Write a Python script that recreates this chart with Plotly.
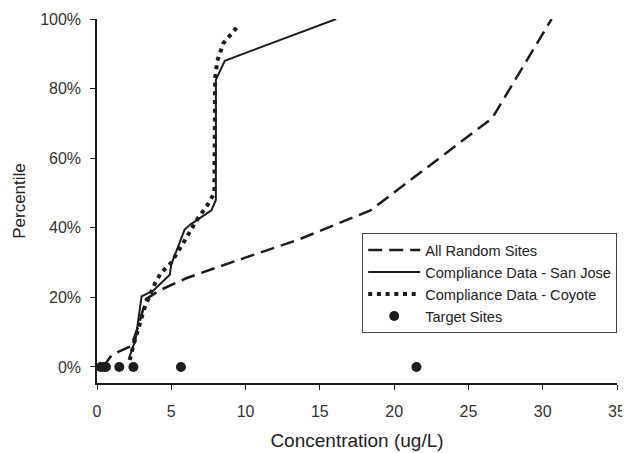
import plotly.graph_objects as go

# Data (concentration ug/L, percentile %)
random_x = [0.4, 1.0, 1.5, 2.3, 2.8, 3.3, 4.2, 6.0, 9.0, 13.5, 18.4, 26.6, 30.6]
random_y = [0.0, 3.5, 4.5, 6.0, 12.0, 19.5, 22.0, 25.5, 30.0, 36.5, 45.0, 71.5, 100.0]

sanjose_x = [2.2, 2.6, 3.0, 3.8, 4.9, 5.0, 5.9, 6.3, 7.7, 8.0, 8.0, 8.6, 16.1]
sanjose_y = [3.0, 8.0, 20.3, 22.0, 26.5, 29.5, 39.5, 41.0, 45.0, 48.0, 82.5, 88.0, 100.0]

coyote_x = [2.2, 2.5, 3.2, 3.5, 3.9, 4.3, 5.0, 6.0, 6.6, 7.5, 7.9, 7.95, 8.1, 8.5, 9.0, 9.55]
coyote_y = [2.0, 7.0, 17.0, 20.0, 24.0, 27.0, 30.0, 37.0, 41.5, 47.0, 50.0, 83.0, 88.0, 93.0, 95.7, 98.3]

target_x = [0.25, 0.5, 0.6, 1.5, 2.45, 5.65, 21.5]
target_y = [0, 0, 0, 0, 0, 0, 0]

y_ticks = [0, 20, 40, 60, 80, 100]
y_tick_labels = ["0%", "20%", "40%", "60%", "80%", "100%"]
x_ticks = [0, 5, 10, 15, 20, 25, 30, 35]

ink = "#1c1c1c"
font = "Liberation Sans, Arial, sans-serif"

fig = go.Figure()
fig.add_trace(go.Scatter(x=random_x, y=random_y, mode="lines", name="All Random Sites",
                         line=dict(color=ink, width=2.5, dash="14px,7px")))
fig.add_trace(go.Scatter(x=sanjose_x, y=sanjose_y, mode="lines", name="Compliance Data - San Jose",
                         line=dict(color=ink, width=2)))
fig.add_trace(go.Scatter(x=coyote_x, y=coyote_y, mode="lines", name="Compliance Data - Coyote",
                         line=dict(color=ink, width=4, dash="4px,4.7px")))
fig.add_trace(go.Scatter(x=target_x, y=target_y, mode="markers", name="Target Sites",
                         marker=dict(color=ink, size=10)))

# The page body adds an 8px offset, so margins are shifted to compensate.
fig.update_layout(
    width=630, height=453,
    margin=dict(l=89, r=21, t=11, b=78),
    paper_bgcolor="white", plot_bgcolor="white",
    font=dict(family=font, color="#333333", size=16),
    showlegend=True,
    legend=dict(x=0.51, y=0.412, xanchor="left", yanchor="top",
                bordercolor="#444444", borderwidth=1, bgcolor="white",
                font=dict(size=14.6, color="#222222"), itemwidth=52,
                tracegroupgap=0),
    xaxis=dict(range=[0, 35], tickvals=x_ticks, showline=True, linecolor=ink, linewidth=2,
               ticks="outside", ticklen=5, tickcolor=ink, tickwidth=1, showgrid=False,
               zeroline=False, ticklabelstandoff=8, automargin=False,
               title=dict(text="Concentration (ug/L)", font=dict(size=19, color="#222222"),
                          standoff=14)),
    yaxis=dict(range=[-4.6, 100], tickvals=y_ticks, ticktext=y_tick_labels, showline=True,
               linecolor=ink, linewidth=1.5, ticks="outside", ticklen=5, tickcolor=ink,
               tickwidth=1, showgrid=False, zeroline=False, ticklabelstandoff=6,
               automargin=False,
               title=dict(text="Percentile", font=dict(size=17, color="#222222"),
                          standoff=10)),
)

fig.write_html("out.html")
